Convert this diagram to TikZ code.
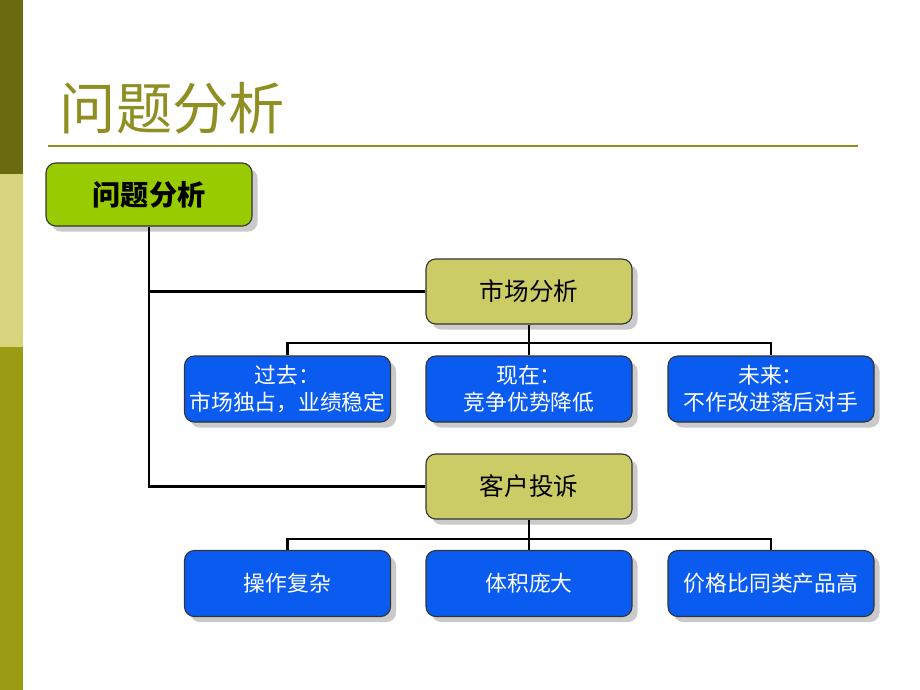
\documentclass[tikz,border=0pt]{standalone}
\usepackage{fontspec}
\newfontfamily\cjk{Noto Sans CJK SC}
\usetikzlibrary{shadows}
\definecolor{darkolive}{HTML}{6B6B12}
\definecolor{lightkhaki}{HTML}{D8D47E}
\definecolor{olivebar}{HTML}{9C9C14}
\definecolor{titleolive}{HTML}{8E8E22}
\definecolor{rootgreen}{HTML}{99CC00}
\definecolor{khakibox}{HTML}{CCCC66}
\definecolor{bluebox}{HTML}{0A5CF0}
\tikzset{>=latex}
\tikzset{
  box/.style={draw=black!80, thick, rounded corners=7pt, minimum width=206*0.025cm,
    minimum height=65*0.025cm, align=center, inner sep=1pt, font=\cjk\fontsize{15.5}{19}\selectfont,
    drop shadow={shadow xshift=4pt, shadow yshift=-4pt, fill=black!35, opacity=0.6}},
  rootbox/.style={box, fill=rootgreen, minimum height=63*0.025cm, font=\cjk\bfseries\fontsize{20}{24}\selectfont},
  midbox/.style={box, fill=khakibox, font=\cjk\fontsize{17.5}{21}\selectfont},
  leafbox/.style={box, fill=bluebox, text=white, minimum height=66*0.025cm},
  link/.style={black, line width=1.6pt}
}
\begin{document}
\begin{tikzpicture}[x=0.025cm, y=-0.025cm]
    \useasboundingbox (0,0) rectangle (920,690);
    % side bar
    \fill[darkolive] (0,0) rectangle (23,174);
    \fill[lightkhaki] (0,174) rectangle (23,347);
    \fill[olivebar] (0,347) rectangle (23,690);
    % title
    \node[anchor=west, text=titleolive, font=\cjk\fontsize{40}{44}\selectfont] (title) at (55,108) {问题分析};
    \draw[titleolive, line width=1.2pt] (48,146) -- (858,146);
    % boxes
    \node[rootbox] (root) at (149,194.5) {问题分析};
    \node[midbox] (market) at (529,291.5) {市场分析};
    \node[leafbox] (past) at (287.5,389) {过去：\\市场独占，业绩稳定};
    \node[leafbox] (now) at (529,389) {现在：\\竞争优势降低};
    \node[leafbox] (future) at (771,389) {未来：\\不作改进落后对手};
    \node[midbox] (complain) at (529,486.5) {客户投诉};
    \node[leafbox] (oper) at (287.5,583.5) {操作复杂};
    \node[leafbox] (size) at (529,583.5) {体积庞大};
    \node[leafbox] (price) at (771,583.5) {价格比同类产品高};
    % connectors
    \coordinate (trunk) at (root.south |- complain.west);
    \draw[link] (root.south) -- (trunk) -- (complain.west);
    \draw[link] (root.south |- market.west) -- (market.west);
    \coordinate (busA) at (529,343);
    \draw[link] (market.south) -- (busA);
    \draw[link] (past.north) |- (busA) -| (future.north);
    \draw[link] (busA) -- (now.north);
    \coordinate (busB) at (529,539);
    \draw[link] (complain.south) -- (busB);
    \draw[link] (oper.north) |- (busB) -| (price.north);
    \draw[link] (busB) -- (size.north);
\end{tikzpicture}
\end{document}
